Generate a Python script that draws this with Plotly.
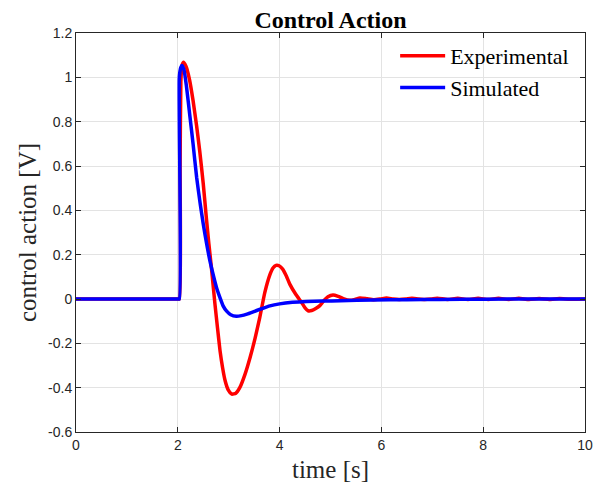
import plotly.graph_objects as go

# Experimental control action
t_exp = [0.0, 1.0, 1.9, 2.0, 2.03, 2.045, 2.06, 2.08, 2.11, 2.16, 2.23, 2.30, 2.37, 2.43, 2.50, 2.56, 2.61, 2.66, 2.73,
         2.78, 2.83, 2.88, 2.93, 2.99, 3.06, 3.14, 3.22, 3.32, 3.42, 3.52, 3.61, 3.71, 3.81, 3.87,
         3.93, 3.99, 4.06, 4.13, 4.20, 4.32, 4.43, 4.50, 4.56, 4.63, 4.71, 4.79, 4.86, 4.95, 5.05,
         5.15, 5.25, 5.38, 5.48, 5.58, 5.72, 5.85, 5.98, 6.1, 6.23, 6.35, 6.48, 6.6, 6.73, 6.85, 6.98,
         7.1, 7.3, 7.5, 7.7, 7.9, 8.1, 8.3, 8.5, 8.7, 8.9, 9.1, 9.3, 9.5, 9.7, 10.0]
u_exp = [0.0, 0.0, 0.0, 0.0, 0.0, 0.6, 0.98, 1.05, 1.068, 1.05, 0.99, 0.895, 0.78, 0.669, 0.52, 0.368, 0.25, 0.142,
         -0.023, -0.13, -0.234, -0.31, -0.369, -0.41, -0.429, -0.425, -0.399, -0.34, -0.264, -0.175,
         -0.084, 0.03, 0.11, 0.14, 0.152, 0.15, 0.135, 0.105, 0.067, 0.02, -0.015, -0.04, -0.053,
         -0.052, -0.043, -0.030, -0.01, 0.01, 0.018, 0.012, 0.002, -0.006, -0.002, 0.005, 0.001,
         -0.003, 0.0, 0.004, 0.0, -0.002, 0.0, 0.003, 0.0, -0.002, 0.0, 0.003, -0.002, 0.003, -0.002,
         0.003, -0.002, 0.003, -0.002, 0.003, -0.002, 0.002, -0.002, 0.002, -0.001, 0.0]

# Simulated control action
t_sim = [0.0, 1.0, 1.9, 2.0, 2.03, 2.03, 2.06, 2.08, 2.12, 2.17, 2.24, 2.30, 2.37, 2.44, 2.50, 2.57, 2.63, 2.70, 2.76,
         2.83, 2.89, 2.96, 3.04, 3.15, 3.25, 3.36, 3.48, 3.62, 3.81, 4.0, 4.25, 4.53, 4.85, 5.19,
         5.84, 6.5, 7.15, 8.0, 9.0, 10.0]
u_sim = [0.0, 0.0, 0.0, 0.0, 0.0, 1.0, 1.045, 1.053, 1.035, 0.96, 0.82, 0.70, 0.549, 0.43, 0.338, 0.245, 0.173,
         0.105, 0.052, 0.005, -0.031, -0.055, -0.071, -0.078, -0.075, -0.068, -0.058, -0.046,
         -0.031, -0.022, -0.015, -0.011, -0.009, -0.008, -0.004, -0.003, -0.002, -0.001, 0.0, 0.0]

x_ticks = [0, 2, 4, 6, 8, 10]
y_tick_vals = [-0.6, -0.4, -0.2, 0, 0.2, 0.4, 0.6, 0.8, 1.0, 1.2]
y_tick_labels = ["-0.6", "-0.4", "-0.2", "0", "0.2", "0.4", "0.6", "0.8", "1", "1.2"]

SERIF = "Liberation Serif, Times New Roman, serif"
SANS = "Liberation Sans, Arial, sans-serif"

fig = go.Figure()
fig.add_trace(go.Scatter(x=t_exp, y=u_exp, mode="lines", name="Experimental",
                         line=dict(color="#ff0000", width=3.5, shape="spline", smoothing=0.5)))
fig.add_trace(go.Scatter(x=t_sim, y=u_sim, mode="lines", name="Simulated",
                         line=dict(color="#0000ff", width=3.5, shape="spline", smoothing=0.5)))

axis_common = dict(showline=True, linecolor="#262626", linewidth=1, mirror="ticks",
                   ticks="inside", ticklen=5, tickcolor="#262626", showgrid=True,
                   gridcolor="#e3e3e3", gridwidth=1, zeroline=False,
                   tickfont=dict(family=SANS, size=14, color="#262626"))

fig.update_layout(
    width=603, height=488,
    margin=dict(l=68, r=26, t=25, b=64),
    paper_bgcolor="white", plot_bgcolor="white",
    title=dict(text="<b>Control Action</b>", x=(68 + 509 / 2) / 603, xanchor="center", xref="container",
               y=1.0, yref="container", yanchor="top", pad=dict(t=3, b=0, l=0, r=0),
               font=dict(family=SERIF, size=24, color="#000000")),
    xaxis=dict(range=[0, 10], tickvals=x_ticks,
               title=dict(text="time [s]", standoff=8,
                          font=dict(family=SERIF, size=25, color="#262626")),
               **axis_common),
    yaxis=dict(range=[-0.6, 1.2], tickvals=y_tick_vals, ticktext=y_tick_labels,
               title=dict(text="control action [V]", standoff=4,
                          font=dict(family=SERIF, size=25, color="#262626")),
               **axis_common),
    legend=dict(x=0.627, y=0.995, xanchor="left", yanchor="top", bgcolor="rgba(0,0,0,0)",
                borderwidth=0, font=dict(family=SERIF, size=22, color="#000000"),
                tracegroupgap=0, itemwidth=45),
    showlegend=True,
)

fig.write_html("out.html")
